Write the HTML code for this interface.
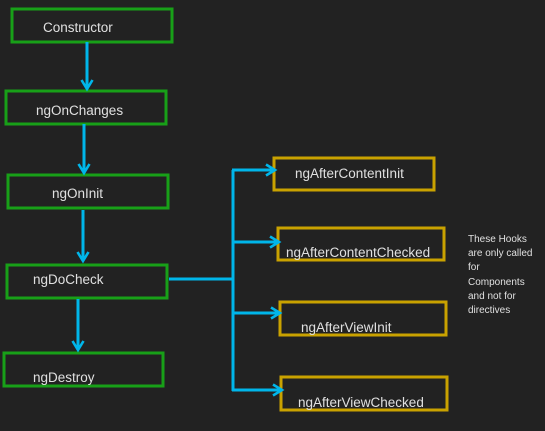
<!DOCTYPE html>
<html><head><style>
html,body{margin:0;padding:0;background:#222222;width:545px;height:431px;overflow:hidden}
svg{display:block}
text{font-family:"Liberation Sans",sans-serif;fill:#e0e0e0;font-size:13.5px}
.n{font-size:10px}
</style></head><body>
<svg width="545" height="431" viewBox="0 0 545 431">
<defs><marker id="a" markerWidth="14" markerHeight="14" refX="11" refY="7" orient="auto" markerUnits="userSpaceOnUse"><path d="M2,1.5 L11,7 L2,12.5" fill="none" stroke="#00b6ea" stroke-width="2.6"/></marker></defs>
<g fill="none" stroke="#18a018" stroke-width="3">
<rect x="12" y="9" width="160" height="33"/>
<rect x="6" y="91" width="160" height="33"/>
<rect x="8" y="175" width="160" height="33"/>
<rect x="7" y="265" width="160" height="33"/>
<rect x="4" y="353" width="159" height="33"/>
</g>
<g fill="none" stroke="#c9a200" stroke-width="3">
<rect x="274" y="158" width="160" height="32"/>
<rect x="278" y="228" width="166" height="32"/>
<rect x="280" y="302" width="166" height="33"/>
<rect x="281" y="377" width="166" height="33"/>
</g>
<g stroke="#00b6ea" stroke-width="3" fill="none">
<line x1="87" y1="42" x2="87" y2="89" marker-end="url(#a)"/>
<line x1="84" y1="124" x2="84" y2="173" marker-end="url(#a)"/>
<line x1="83" y1="210" x2="83" y2="261" marker-end="url(#a)"/>
<line x1="78" y1="299" x2="78" y2="350" marker-end="url(#a)"/>
<line x1="169" y1="279" x2="233" y2="279"/>
<polyline points="233,170 233,391"/>
<line x1="232" y1="170" x2="275" y2="170" marker-end="url(#a)"/>
<line x1="232" y1="242" x2="279" y2="242" marker-end="url(#a)"/>
<line x1="232" y1="313" x2="280" y2="313" marker-end="url(#a)"/>
<line x1="232" y1="390" x2="282" y2="390" marker-end="url(#a)"/>
</g>
<text x="43" y="32">Constructor</text>
<text x="36" y="115">ngOnChanges</text>
<text x="52" y="198">ngOnInit</text>
<text x="33" y="284">ngDoCheck</text>
<text x="33" y="382">ngDestroy</text>
<text x="295" y="178">ngAfterContentInit</text>
<text x="286" y="257">ngAfterContentChecked</text>
<text x="301" y="332">ngAfterViewInit</text>
<text x="298" y="407">ngAfterViewChecked</text>
<text class="n" x="468" y="242">These Hooks</text>
<text class="n" x="468" y="256">are only called</text>
<text class="n" x="468" y="270">for</text>
<text class="n" x="468" y="285">Components</text>
<text class="n" x="468" y="299">and not for</text>
<text class="n" x="468" y="313">directives</text>
</svg>
</body></html>
